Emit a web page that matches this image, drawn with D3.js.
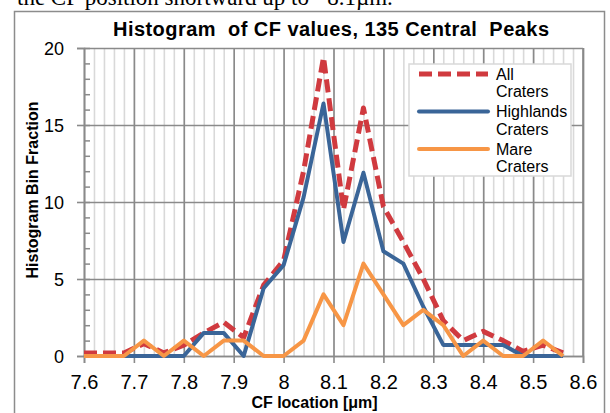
<!DOCTYPE html>
<html>
<head>
<meta charset="utf-8">
<script src="https://cdn.jsdelivr.net/npm/d3@7"></script>
<style>
  html, body { margin: 0; padding: 0; background: #ffffff; }
  svg { display: block; }
</style>
</head>
<body>
<svg id="chart" width="610" height="413"></svg>
<script>
// ---- data ----
const cfLocation = [7.60, 7.64, 7.68, 7.72, 7.76, 7.80, 7.84, 7.88, 7.92, 7.96,
                    8.00, 8.04, 8.08, 8.12, 8.16, 8.20, 8.24, 8.28, 8.32, 8.36,
                    8.40, 8.44, 8.48, 8.52, 8.56];
const allCraters = [0.2, 0.2, 0.2, 0.8, 0.2, 0.7, 1.5, 2.2, 1.2, 4.6,
                    6.2, 12.0, 19.4, 9.5, 16.1, 9.7, 7.4, 5.0, 2.3, 1.0,
                    1.6, 1.0, 0.3, 0.7, 0.2];
const highlandsCraters = [0, 0, 0, 0, 0, 0, 1.5, 1.5, 0, 4.4,
                          5.9, 10.3, 16.4, 7.4, 11.9, 6.8, 6.0, 3.2, 0.72, 0.72,
                          0.72, 0.72, 0, 0, 0];
const mareCraters = [0, 0, 0, 1, 0, 1, 0, 1, 1, 0,
                     0, 1, 4, 2, 6, 4, 2, 3, 2, 0,
                     1, 0, 0, 1, 0];
const xTickValues = [7.6, 7.7, 7.8, 7.9, 8.0, 8.1, 8.2, 8.3, 8.4, 8.5, 8.6];
const xTickLabels = ["7.6", "7.7", "7.8", "7.9", "8", "8.1", "8.2", "8.3", "8.4", "8.5", "8.6"];
const yTickValues = [0, 5, 10, 15, 20];
const yTickLabels = ["0", "5", "10", "15", "20"];
const seriesNames = [["All", "Craters"], ["Highlands", "Craters"], ["Mare", "Craters"]];
const chartTitle = "Histogram  of CF values, 135 Central  Peaks";
const xAxisTitle = "CF location [\u03bcm]";
const yAxisTitle = "Histogram Bin Fraction";
const captionText = "the CF position shortward up to ~8.1\u00b5m.";

// ---- layout ----
const svg = d3.select("#chart");
const pLeft = 84, pRight = 583, pTop = 48, pBottom = 356;
const x = d3.scaleLinear().domain([7.6, 8.6]).range([pLeft, pRight]);
const y = d3.scaleLinear().domain([0, 20]).range([pBottom, pTop]);
const plotW = pRight - pLeft, plotH = pBottom - pTop;

const colors = { all: "#d03a3f", high: "#3a6598", mare: "#f79646" };
const darkGrid = "#8a8a8a", lightGrid = "#d9d9d9";

// clipped caption text above chart (cut off at the top in the reference too)
svg.append("text")
  .attr("x", 17).attr("y", 5)
  .attr("font-family", "Liberation Serif, Times New Roman, serif")
  .attr("font-size", 23)
  .attr("fill", "#000")
  .text(captionText);

// chart outer border
svg.append("rect")
  .attr("x", 14.5).attr("y", 11.5)
  .attr("width", 590).attr("height", 430)
  .attr("fill", "#ffffff")
  .attr("stroke", "#8c8c8c").attr("stroke-width", 1.5);

// title
svg.append("text")
  .attr("x", 331).attr("y", 35.7)
  .attr("text-anchor", "middle")
  .attr("font-family", "Liberation Sans, Arial, sans-serif")
  .attr("font-weight", "bold")
  .attr("font-size", 20)
  .attr("textLength", 436)
  .attr("lengthAdjust", "spacing")
  .style("white-space", "pre")
  .attr("fill", "#000")
  .text(chartTitle);

// minor vertical grid
svg.append("g")
  .attr("transform", `translate(0,${pBottom})`)
  .call(d3.axisBottom(x).ticks(50).tickSize(-plotH).tickFormat(""))
  .call(g => g.select(".domain").remove())
  .call(g => g.selectAll("line").attr("stroke", lightGrid).attr("stroke-width", 1.6));

// major vertical grid
svg.append("g")
  .attr("transform", `translate(0,${pBottom})`)
  .call(d3.axisBottom(x).tickValues(xTickValues).tickSize(-plotH).tickFormat(""))
  .call(g => g.select(".domain").remove())
  .call(g => g.selectAll("line").attr("stroke", darkGrid).attr("stroke-width", 1.6));

// horizontal major grid
svg.append("g")
  .attr("transform", `translate(${pLeft},0)`)
  .call(d3.axisLeft(y).tickValues(yTickValues).tickSize(-plotW).tickFormat(""))
  .call(g => g.select(".domain").remove())
  .call(g => g.selectAll("line").attr("stroke", darkGrid).attr("stroke-width", 1.6));

// y minor ticks (inside)
svg.append("g")
  .attr("transform", `translate(${pLeft},0)`)
  .call(d3.axisLeft(y).ticks(20).tickSize(-6).tickFormat(""))
  .call(g => g.select(".domain").remove())
  .call(g => g.selectAll("line").attr("stroke", darkGrid).attr("stroke-width", 1.5));

// y axis
svg.append("g")
  .attr("transform", `translate(${pLeft},0)`)
  .call(d3.axisLeft(y).tickValues(yTickValues).tickSize(7)
        .tickFormat((d, i) => yTickLabels[i]))
  .call(g => g.select(".domain").attr("stroke", darkGrid).attr("stroke-width", 1.6))
  .call(g => g.selectAll("line").attr("stroke", darkGrid).attr("stroke-width", 1.6))
  .call(g => g.selectAll("text")
      .attr("x", -20).attr("dy", "0.36em")
      .attr("font-family", "Liberation Sans, Arial, sans-serif")
      .attr("font-size", 18).attr("fill", "#000"));

// x axis
svg.append("g")
  .attr("transform", `translate(0,${pBottom})`)
  .call(d3.axisBottom(x).tickValues(xTickValues).tickSize(7)
        .tickFormat((d, i) => xTickLabels[i]))
  .call(g => g.select(".domain").attr("stroke", darkGrid).attr("stroke-width", 1.6))
  .call(g => g.selectAll("line").attr("stroke", darkGrid).attr("stroke-width", 1.6))
  .call(g => g.selectAll("text")
      .attr("y", 33.3).attr("dy", null)
      .attr("font-family", "Liberation Sans, Arial, sans-serif")
      .attr("font-size", 20).attr("fill", "#000"));

// right border of plot
svg.append("line")
  .attr("x1", pRight).attr("x2", pRight).attr("y1", pTop).attr("y2", pBottom)
  .attr("stroke", darkGrid).attr("stroke-width", 1.6);

// axis titles
svg.append("text")
  .attr("x", 314.5).attr("y", 407.7)
  .attr("text-anchor", "middle")
  .attr("font-family", "Liberation Sans, Arial, sans-serif")
  .attr("font-weight", "bold").attr("font-size", 16)
  .attr("fill", "#000")
  .text(xAxisTitle);

svg.append("text")
  .attr("transform", "translate(38,190) rotate(-90)")
  .attr("text-anchor", "middle")
  .attr("font-family", "Liberation Sans, Arial, sans-serif")
  .attr("font-weight", "bold").attr("font-size", 16)
  .attr("fill", "#000")
  .text(yAxisTitle);

// series lines
const line = values => d3.line()
  .x((d, i) => x(cfLocation[i]))
  .y(d => y(d))(values);

svg.append("path")
  .attr("d", line(allCraters))
  .attr("fill", "none").attr("stroke", colors.all)
  .attr("stroke-width", 5).attr("stroke-dasharray", "13,6")
  .attr("stroke-linejoin", "round");

svg.append("path")
  .attr("d", line(highlandsCraters))
  .attr("fill", "none").attr("stroke", colors.high)
  .attr("stroke-width", 4).attr("stroke-linejoin", "round");

svg.append("path")
  .attr("d", line(mareCraters))
  .attr("fill", "none").attr("stroke", colors.mare)
  .attr("stroke-width", 4).attr("stroke-linejoin", "round");

// legend
const legend = svg.append("g");
legend.append("rect")
  .attr("x", 409).attr("y", 64).attr("width", 162).attr("height", 112)
  .attr("fill", "#ffffff").attr("stroke", "#d9d9d9").attr("stroke-width", 1.5);

const legendColors = [colors.all, colors.high, colors.mare];
const legendDash = ["13,6", null, null];
const legendWidth = [5, 4, 4];
seriesNames.forEach((lines, k) => {
  const ly = 74 + k * 37.5;
  legend.append("line")
    .attr("x1", 419).attr("x2", 488).attr("y1", ly).attr("y2", ly)
    .attr("stroke", legendColors[k]).attr("stroke-width", legendWidth[k])
    .attr("stroke-dasharray", legendDash[k])
    .attr("stroke-linecap", k === 0 ? "butt" : "round");
  const t = legend.append("text")
    .attr("font-family", "Liberation Sans, Arial, sans-serif")
    .attr("font-size", 16).attr("fill", "#000");
  lines.forEach((s, j) => {
    t.append("tspan").attr("x", 496).attr("y", ly + 5.5 + j * 17.7).text(s);
  });
});
</script>
</body>
</html>
